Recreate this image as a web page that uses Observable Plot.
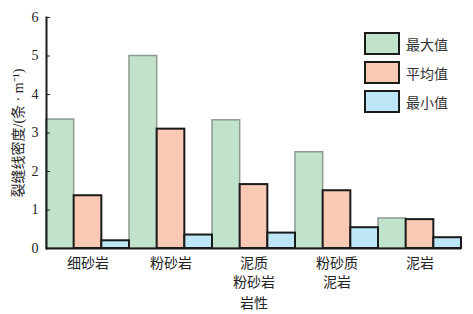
<!DOCTYPE html>
<html><head><meta charset="utf-8">
<script src="https://cdn.jsdelivr.net/npm/d3@7"></script>
<script src="https://cdn.jsdelivr.net/npm/@observablehq/plot@0.6"></script>
<style>
body{margin:0;background:#fff;}
#wrap{position:relative;width:473px;height:314px;font-family:"Liberation Serif","Noto Sans CJK SC",serif;}
.leg{position:absolute;left:364px;display:flex;align-items:center;font-size:14px;color:#333;}
.sw{width:32px;height:19px;border:2px solid #1a1a1a;margin-right:6px;}
</style></head><body>
<div id="wrap"></div>
<script>
const categories = ["细砂岩","粉砂岩","泥质粉砂岩","粉砂质泥岩","泥岩"];
const categoryLabels = ["细砂岩","粉砂岩","泥质\n粉砂岩","粉砂质\n泥岩","泥岩"];
const series = ["最大值","平均值","最小值"];
const maxValues = [3.35, 5.0, 3.33, 2.5, 0.78];
const avgValues = [1.37, 3.1, 1.66, 1.5, 0.75];
const minValues = [0.2, 0.35, 0.4, 0.54, 0.28];
const colors = ["#c2e3cb","#f9c9b3","#bde6f7"];
const yTicks = [0,1,2,3,4,5,6];

const valuesBySeries = [maxValues, avgValues, minValues];
const rows = [];
categories.forEach((c, i) => series.forEach((s, j) => rows.push({key: c + "|" + s, cat: c, ser: s, value: valuesBySeries[j][i]})));
const domainX = rows.map(d => d.key);
const labelFor = new Map(categories.map((c, i) => [c + "|平均值", categoryLabels[i]]));

const font = '"Liberation Serif","Noto Sans CJK SC",serif';
const chart = Plot.plot({
  width: 473, height: 314,
  marginLeft: 46, marginRight: 12, marginTop: 17, marginBottom: 66,
  style: {fontFamily: font, fontSize: "14px", color: "#222", background: "#fff"},
  x: {domain: domainX, padding: 0, round: false, axis: null},
  y: {domain: [0, 6], axis: null},
  marks: [
    Plot.barY(rows.filter(d => d.ser === series[0]), {x: "key", y: "value", fill: colors[0], stroke: "#8c9a90", strokeWidth: 1.5, inset: 0}),
    Plot.barY(rows.filter(d => d.ser === series[1]), {x: "key", y: "value", fill: colors[1], stroke: "#1a1a1a", strokeWidth: 2, inset: 0}),
    Plot.barY(rows.filter(d => d.ser === series[2]), {x: "key", y: "value", fill: colors[2], stroke: "#1a1a1a", strokeWidth: 2, inset: 0}),
    Plot.axisY({ticks: yTicks, tickSize: -4, tickPadding: 12, tickFormat: d => d, fontSize: 14, label: "裂缝线密度/(条 · m⁻¹)", labelAnchor: "center", labelOffset: 33, labelArrow: "none"}),
    Plot.axisX({ticks: [...labelFor.keys()], tickSize: 0, tickPadding: 7, tickFormat: d => labelFor.get(d), fontSize: 14, lineHeight: 1.3, label: "岩性", labelAnchor: "center", labelOffset: 59, labelArrow: "none"}),
    Plot.frame({anchor: "left", stroke: "#1a1a1a", strokeWidth: 2}),
    Plot.ruleY([0], {stroke: "#1a1a1a", strokeWidth: 2})
  ]
});
const wrap = document.getElementById("wrap");
wrap.appendChild(chart);
const legTops = [32, 61, 90];
series.forEach((s, j) => {
  const d = document.createElement("div");
  d.className = "leg";
  d.style.top = legTops[j] + "px";
  d.innerHTML = `<div class="sw" style="background:${colors[j]}"></div><span>${s}</span>`;
  wrap.appendChild(d);
});
</script>
</body></html>
